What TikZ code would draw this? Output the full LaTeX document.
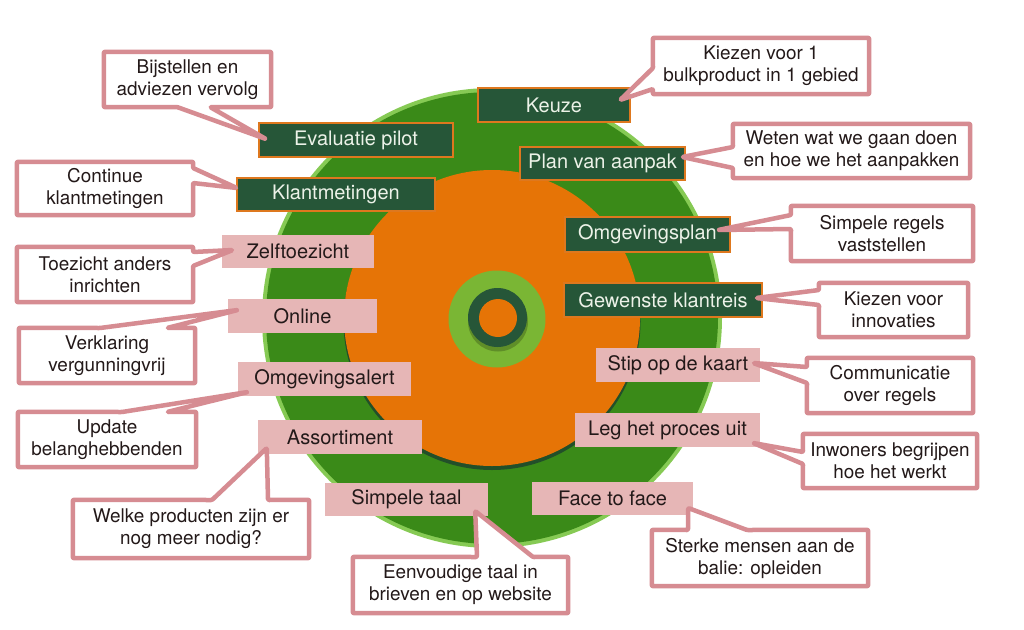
\documentclass[tikz,border=0pt]{standalone}
\usepackage{fontspec}
\setmainfont{TeX Gyre Heros}
\usetikzlibrary{calc}
\definecolor{rim}{RGB}{134,202,84}
\definecolor{ring}{RGB}{58,138,24}
\definecolor{org}{RGB}{230,116,6}
\definecolor{cgreen}{RGB}{122,182,52}
\definecolor{dgreen}{RGB}{38,86,56}
\definecolor{oborder}{RGB}{222,120,30}
\definecolor{pinkfill}{RGB}{230,182,182}
\definecolor{pinkline}{RGB}{214,140,146}
\definecolor{txt}{RGB}{35,25,25}
\definecolor{ltxt}{RGB}{236,242,232}
\pgfdeclarelayer{cshape}
\pgfdeclarelayer{ctext}
\pgfsetlayers{main,cshape,ctext}
\tikzset{
  dlabel/.style={fill=dgreen,draw=oborder,line width=2.2pt,text=ltxt,
    font=\fontsize{20}{24}\selectfont,inner sep=0pt},
  plabel/.style={fill=pinkfill,draw=none,text=txt,
    font=\fontsize{20}{24}\selectfont,inner sep=0pt},
  callout/.style={text=txt,align=center,inner sep=0pt,
    font=\fontsize{18.9}{22}\selectfont},
  cw/.style={draw=pinkline,fill=white,line width=4.5pt,line join=round,rounded corners=1pt}
}
\begin{document}
\begin{tikzpicture}[x=1pt,y=-1pt]
\fill[white] (0,0) rectangle (1024,629);
\useasboundingbox (0,0) rectangle (1024,629);
% circles
\fill[rim] (492,318) circle (230pt);
\fill[ring] (492,318) circle (226pt);
\fill[dgreen!80!black,opacity=0.85] (492,321.5) circle (148.5pt);
\fill[org] (492,318) circle (148pt);
\fill[cgreen] (497,319) circle (48.5pt);
\fill[black,opacity=0.22] (498,321.5) circle (30pt);
\fill[dgreen] (497.5,317.5) circle (29.5pt);
\fill[org] (498,318) circle (19pt);
% labels
\node[dlabel,minimum width=152pt,minimum height=34pt] (keuze) at (554,105) {Keuze};
\node[dlabel,minimum width=165pt,minimum height=33pt] (plan) at (602.5,163.5) {Plan van aanpak};
\node[dlabel,minimum width=194pt,minimum height=34pt] (eval) at (356,140) {Evaluatie pilot};
\node[dlabel,minimum width=198pt,minimum height=33pt] (klant) at (336,194.5) {Klantmetingen};
\node[dlabel,minimum width=165pt,minimum height=35pt] (ogplan) at (647.5,234.5) {Omgevingsplan};
\node[dlabel,minimum width=198pt,minimum height=34pt] (gewenst) at (663,300) {Gewenste klantreis};
\node[plabel,minimum width=152pt,minimum height=33pt] (zelf) at (298,251.5) {Zelftoezicht};
\node[plabel,minimum width=149pt,minimum height=34pt] (online) at (302.5,316) {Online};
\node[plabel,minimum width=173pt,minimum height=34pt] (ogalert) at (324.5,379) {Omgevingsalert};
\node[plabel,minimum width=164pt,minimum height=34pt] (assort) at (340,437) {Assortiment};
\node[plabel,minimum width=163pt,minimum height=33pt] (simpel) at (406.5,499) {Simpele taal};
\node[plabel,minimum width=161pt,minimum height=33pt] (face) at (612.5,498.5) {Face to face};
\node[plabel,minimum width=185pt,minimum height=34pt] (leg) at (667.5,430) {Leg het proces uit};
\node[plabel,minimum width=164pt,minimum height=34pt] (stip) at (678,365) {Stip op de kaart};
% pointer tips
\coordinate (tA) at ($(eval.west)+(8,-1)$);
\coordinate (tB) at ($(keuze.east)+(-11,-5)$);
\coordinate (tC) at ($(plan.east)+(-4,-6.5)$);
\coordinate (tD) at ($(klant.west)+(1,-6.5)$);
\coordinate (tE) at ($(zelf.west)+(11,-1.5)$);
\coordinate (tF) at ($(online.west)+(10,-6)$);
\coordinate (tG) at ($(ogalert.west)+(10,13)$);
\coordinate (tH) at ($(assort.west)+(9,11)$);
\coordinate (tI) at ($(simpel.east)+(-13,12)$);
\coordinate (tJ) at ($(face.east)+(-5,9.5)$);
\coordinate (tK) at ($(leg.east)+(-7,13)$);
\coordinate (tL) at ($(ogplan.east)+(-13,-4.5)$);
\coordinate (tM) at ($(gewenst.east)+(-7,-2)$);
\coordinate (tN) at ($(stip.east)+(-7,-2)$);
% callout texts
\begin{pgfonlayer}{ctext}
\node[callout,minimum width=167pt,minimum height=55pt] (A) at (187.5,79.5) {Bijstellen en\\adviezen vervolg};
\node[callout,minimum width=216pt,minimum height=56pt] (B) at (761,66) {Kiezen voor 1\\bulkproduct in 1 gebied};
\node[callout,minimum width=237pt,minimum height=54pt] (C) at (851.5,151) {Weten wat we gaan doen\\en hoe we het aanpakken};
\node[callout,minimum width=176pt,minimum height=53pt] (D) at (105,188.5) {Continue\\klantmetingen};
\node[callout,minimum width=176pt,minimum height=55pt] (E) at (105,274.5) {Toezicht anders\\inrichten};
\node[callout,minimum width=176pt,minimum height=55pt] (F) at (107,355.5) {Verklaring\\vergunningvrij};
\node[callout,minimum width=178pt,minimum height=55pt] (G) at (107,439.5) {Update\\belanghebbenden};
\node[callout,minimum width=236pt,minimum height=58pt] (H) at (191,529) {Welke producten zijn er\\nog meer nodig?};
\node[callout,minimum width=215pt,minimum height=56pt] (I) at (460.5,585) {Eenvoudige taal in\\brieven en op website};
\node[callout,minimum width=216pt,minimum height=56pt] (J) at (760,558) {Sterke mensen aan de\\balie: opleiden};
\node[callout,minimum width=174pt,minimum height=54pt] (K) at (890,461) {Inwoners begrijpen\\hoe het werkt};
\node[callout,minimum width=182pt,minimum height=55pt] (L) at (882,233.5) {Simpele regels\\vaststellen};
\node[callout,minimum width=149pt,minimum height=54pt] (M) at (893.5,310) {Kiezen voor\\innovaties};
\node[callout,minimum width=166pt,minimum height=55pt] (N) at (890,385.5) {Communicatie\\over regels};
\end{pgfonlayer}
% callout shapes
\begin{pgfonlayer}{cshape}
\draw[cw] (A.north west) -- (A.north east) -- (A.south east) -- (210,107) -- (tA) -- (177,107) -- (A.south west) -- cycle;
\draw[cw] (B.north west) -- (B.north east) -- (B.south east) -- (B.south west) -- (653,89) -- (tB) -- (653,68) -- cycle;
\draw[cw] (C.north west) -- (C.north east) -- (C.south east) -- (C.south west) -- (733,168) -- (tC) -- (733,147) -- cycle;
\draw[cw] (D.north west) -- (D.north east) -- (193,168) -- (tD) -- (193,183) -- (D.south east) -- (D.south west) -- cycle;
\draw[cw] (E.north west) -- (E.north east) -- (193,252) -- (tE) -- (193,266) -- (E.south east) -- (E.south west) -- cycle;
\draw[cw] (F.north west) -- (100,328) -- (tF) -- (167,328) -- (F.north east) -- (F.south east) -- (F.south west) -- cycle;
\draw[cw] (G.north west) -- (122,412) -- (tG) -- (167,412) -- (G.north east) -- (G.south east) -- (G.south west) -- cycle;
\draw[cw] (H.north west) -- (212,500) -- (tH) -- (268,500) -- (H.north east) -- (H.south east) -- (H.south west) -- cycle;
\draw[cw] (I.north west) -- (477,557) -- (tI) -- (533,557) -- (I.north east) -- (I.south east) -- (I.south west) -- cycle;
\draw[cw] (J.north west) -- (688,530) -- (tJ) -- (747,530) -- (J.north east) -- (J.south east) -- (J.south west) -- cycle;
\draw[cw] (K.north west) -- (K.north east) -- (K.south east) -- (K.south west) -- (803,464) -- (tK) -- (803,452) -- cycle;
\draw[cw] (L.north west) -- (L.north east) -- (L.south east) -- (L.south west) -- (791,229) -- (tL) -- (791,215) -- cycle;
\draw[cw] (M.north west) -- (M.north east) -- (M.south east) -- (M.south west) -- (819,305) -- (tM) -- (819,290) -- cycle;
\draw[cw] (N.north west) -- (N.north east) -- (N.south east) -- (N.south west) -- (807,383) -- (tN) -- (807,367) -- cycle;
\end{pgfonlayer}
\end{tikzpicture}
\end{document}
